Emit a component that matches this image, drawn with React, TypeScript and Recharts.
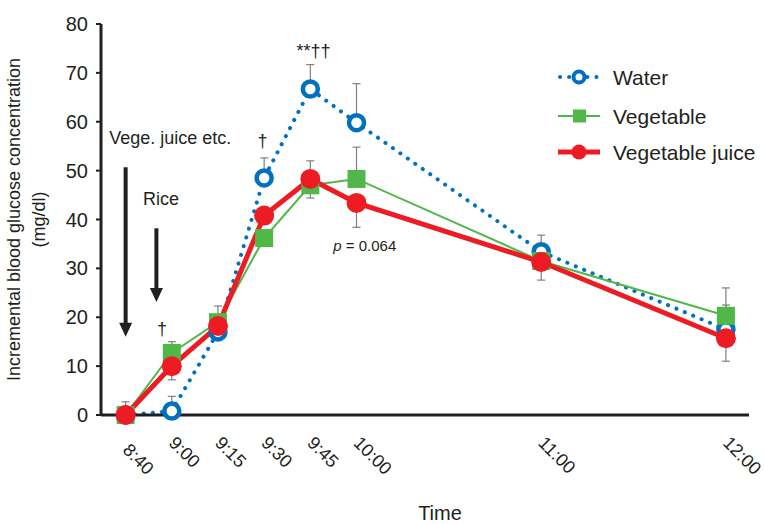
import React from 'react';
import { LineChart, Line, XAxis, YAxis, ErrorBar, ReferenceLine, ReferenceDot, Label } from 'recharts';

// minutes from 9:00 (8:40 is drawn one step before 9:00, as in the original figure)
const times = [-15, 0, 15, 30, 45, 60, 120, 180];
const timeLabels = ['8:40', '9:00', '9:15', '9:30', '9:45', '10:00', '11:00', '12:00'];
const yTicks = [0, 10, 20, 30, 40, 50, 60, 70, 80];

const water = [0, 0.8, 17, 48.5, 66.7, 59.8, 33.4, 17.5];
const vegetable = [0, 12.7, 19, 36.2, 47, 48.3, 31.5, 20.3];
const vegJuice = [0, 10, 18.2, 40.8, 48.3, 43.4, 31.3, 15.7];

// [down, up]
const waterErr = [[0, 0], [0, 3], [0, 0], [0, 4.1], [0, 5], [0, 8], [0, 3.4], [0, 5]];
const vegetableErr = [[0, 2.7], [0, 2.3], [0, 3.3], [0, 0], [2.6, 0], [0, 6.5], [0, 0], [0, 5.7]];
const vegJuiceErr = [[0, 0], [2.8, 0], [0, 0], [0, 0], [0, 3.7], [5, 0], [3.7, 0], [4.7, 0]];

const BLUE = '#0070C0';
const GREEN = '#50B848';
const RED = '#ED1C24';
const INK = '#231F20';

const data = times.map((t, i) => ({
  t,
  water: water[i],
  vegetable: vegetable[i],
  juice: vegJuice[i],
  waterErr: waterErr[i],
  vegetableErr: vegetableErr[i],
  juiceErr: vegJuiceErr[i],
}));

function TimeTick(props: any) {
  const { x, y, payload } = props;
  const i = times.indexOf(payload.value);
  const tx = x - 4;
  const ty = y + (i === 0 ? 36 : 29);
  return (
    <text x={tx} y={ty} transform={`rotate(45 ${tx} ${ty})`} fontSize={18} fill={INK} textAnchor="start">
      {timeLabels[i]}
    </text>
  );
}

function SquareDot(props: any) {
  const { cx, cy } = props;
  if (cx == null || cy == null) return null;
  return <rect x={cx - 9} y={cy - 9} width={18} height={18} fill={GREEN} />;
}

function Arrow(props: any) {
  const { x1, y1, x2, y2 } = props;
  const head = 14;
  return (
    <g>
      <line x1={x1} y1={y1} x2={x2} y2={y2 - head + 2} stroke={INK} strokeWidth={4} />
      <polygon points={`${x2 - 6.5},${y2 - head} ${x2 + 6.5},${y2 - head} ${x2},${y2}`} fill={INK} />
    </g>
  );
}

const note = (text: React.ReactNode, size = 18) => (props: any) => (
  <text x={props.cx} y={props.cy} fontSize={size} fill={INK} textAnchor="middle">
    {text}
  </text>
);

function LegendBox() {
  const rows = [
    { name: 'Water', y: 17 },
    { name: 'Vegetable', y: 56 },
    { name: 'Vegetable juice', y: 92 },
  ];
  return (
    <svg width={214} height={110}>
      <line x1={10} y1={rows[0].y} x2={50} y2={rows[0].y} stroke={BLUE} strokeWidth={4} strokeDasharray="0.1 9" strokeLinecap="round" />
      <circle cx={29} cy={rows[0].y} r={5.5} fill="#fff" stroke={BLUE} strokeWidth={4} />
      <line x1={8} y1={rows[1].y} x2={50} y2={rows[1].y} stroke={GREEN} strokeWidth={2} />
      <rect x={23} y={rows[1].y - 6.5} width={13} height={13} fill={GREEN} />
      <line x1={8} y1={rows[2].y} x2={50} y2={rows[2].y} stroke={RED} strokeWidth={5} />
      <circle cx={29} cy={rows[2].y} r={7.5} fill={RED} />
      {rows.map((r) => (
        <text key={r.name} x={63} y={r.y + 7.5} fontSize={21} fill={INK}>
          {r.name}
        </text>
      ))}
    </svg>
  );
}

export default function App() {
  return (
    <div style={{ position: 'absolute', left: 0, top: 0, width: 764, height: 524, background: '#fff', fontFamily: '"Liberation Sans", Arial, sans-serif' }}>
      <LineChart width={764} height={524} data={data} margin={{ top: 24, right: 15, bottom: 0, left: 0 }}>
        <XAxis
          dataKey="t"
          type="number"
          domain={[-23, 187.5]}
          ticks={times}
          interval={0}
          allowDataOverflow
          height={109}
          tickLine={false}
          tickSize={0}
          tickMargin={0}
          axisLine={{ stroke: INK, strokeWidth: 3 }}
          tick={<TimeTick />}
        >
          <Label
            content={(p: any) => {
              const vb = p.viewBox;
              return (
                <text x={vb.x + vb.width / 2 + 15} y={vb.y + vb.height - 4} textAnchor="middle" fontSize={20} fill={INK}>
                  Time
                </text>
              );
            }}
          />
        </XAxis>
        <YAxis
          type="number"
          domain={[0, 80]}
          ticks={yTicks}
          interval={0}
          width={101}
          tickSize={5}
          tickMargin={8}
          tickLine={{ stroke: INK, strokeWidth: 2 }}
          axisLine={{ stroke: INK, strokeWidth: 3 }}
          tick={{ fill: INK, fontSize: 20 }}
        >
          <Label
            content={(p: any) => {
              const vb = p.viewBox;
              const cy = vb.y + vb.height / 2;
              return (
                <text transform="rotate(-90)" textAnchor="middle" fontSize={18} fill={INK}>
                  <tspan x={-cy} y={20}>Incremental blood glucose concentration</tspan>
                  <tspan x={-cy} y={45}>(mg/dl)</tspan>
                </text>
              );
            }}
          />
        </YAxis>

        {/* error bars behind the series */}
        <Line dataKey="water" stroke="none" dot={false} activeDot={false} legendType="none" isAnimationActive={false}>
          <ErrorBar dataKey="waterErr" direction="y" width={4} stroke="#7F7F7F" strokeWidth={1.2} />
        </Line>
        <Line dataKey="vegetable" stroke="none" dot={false} activeDot={false} legendType="none" isAnimationActive={false}>
          <ErrorBar dataKey="vegetableErr" direction="y" width={4} stroke="#7F7F7F" strokeWidth={1.2} />
        </Line>
        <Line dataKey="juice" stroke="none" dot={false} activeDot={false} legendType="none" isAnimationActive={false}>
          <ErrorBar dataKey="juiceErr" direction="y" width={4} stroke="#7F7F7F" strokeWidth={1.2} />
        </Line>

        <Line
          name="Water"
          dataKey="water"
          type="linear"
          stroke={BLUE}
          strokeWidth={4}
          strokeDasharray="0.1 9"
          strokeLinecap="round"
          dot={{ r: 7.5, fill: '#fff', stroke: BLUE, strokeWidth: 4.5, strokeDasharray: 'none' }}
          activeDot={false}
          isAnimationActive={false}
        />
        <Line
          name="Vegetable"
          dataKey="vegetable"
          type="linear"
          stroke={GREEN}
          strokeWidth={2}
          dot={<SquareDot />}
          activeDot={false}
          isAnimationActive={false}
        />
        <Line
          name="Vegetable juice"
          dataKey="juice"
          type="linear"
          stroke={RED}
          strokeWidth={5}
          dot={{ r: 10, fill: RED, stroke: 'none' }}
          activeDot={false}
          isAnimationActive={false}
        />

        <ReferenceLine segment={[{ x: -15, y: 50.7 }, { x: -15, y: 16 }]} shape={<Arrow />} />
        <ReferenceLine segment={[{ x: -5, y: 38.2 }, { x: -5, y: 23.1 }]} shape={<Arrow />} />
        <ReferenceDot x={-0.5} y={55.5} r={0} shape={note('Vege. juice etc.')} />
        <ReferenceDot x={-3.5} y={43} r={0} shape={note('Rice')} />
        <ReferenceDot x={-3.2} y={16.4} r={0} shape={note('†')} />
        <ReferenceDot x={29.5} y={54.8} r={0} shape={note('†')} />
        <ReferenceDot x={46} y={73.2} r={0} shape={note('**††')} />
        <ReferenceDot
          x={62.7}
          y={33.5}
          r={0}
          shape={note(
            <>
              <tspan fontStyle="italic">p</tspan> = 0.064
            </>,
            15
          )}
        />
      </LineChart>
      <div style={{ position: 'absolute', left: 550, top: 60 }}>
        <LegendBox />
      </div>
    </div>
  );
}
